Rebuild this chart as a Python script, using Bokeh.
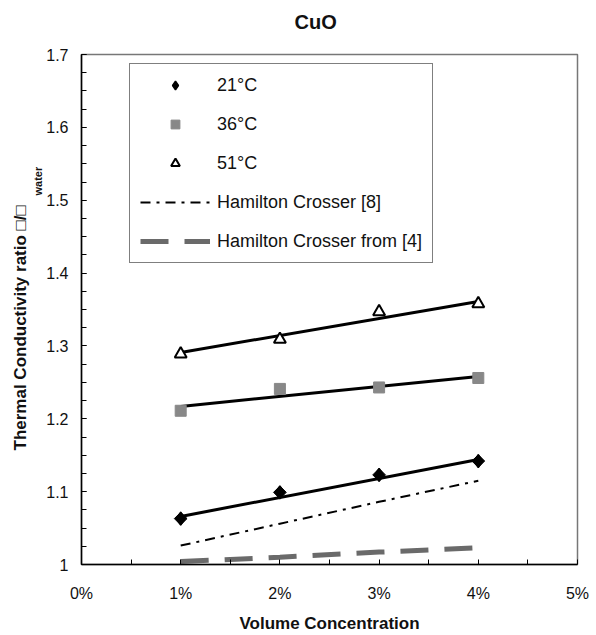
import math
from bokeh.plotting import figure
from bokeh.models import (Range1d, FixedTicker, CustomJSTickFormatter, Title,
                          Legend, LegendItem)
from bokeh.embed import file_html
from bokeh.resources import INLINE

# ---- data ----
conc = [1, 2, 3, 4]                       # volume concentration, %
k21 = [1.063, 1.099, 1.123, 1.142]
k36 = [1.211, 1.241, 1.243, 1.256]
k51 = [1.289, 1.309, 1.347, 1.358]
trend_x = [1, 4]
trend21 = [1.066, 1.144]
trend36 = [1.217, 1.258]
trend51 = [1.291, 1.361]
hc8 = [1.026, 1.056, 1.086, 1.115]
hc4 = [1.004, 1.010, 1.017, 1.023]

x_ticks = [0, 1, 2, 3, 4, 5]
x_minor = [0.5, 1.5, 2.5, 3.5, 4.5]
y_ticks = [1.0, 1.1, 1.2, 1.3, 1.4, 1.5, 1.6, 1.7]

FONT = "Liberation Sans"

p = figure(width=596, height=635, output_backend="svg", toolbar_location=None,
           x_range=Range1d(0, 5), y_range=Range1d(1.0, 1.7),
           min_border_left=81, min_border_right=19, min_border_top=54,
           min_border_bottom=69)
p.xgrid.visible = False
p.ygrid.visible = False
p.outline_line_color = "#777777"
p.outline_line_width = 1.5
p.background_fill_color = "white"
p.border_fill_color = "white"

y_minor = [round(1.0 + 0.025 * i, 3) for i in range(29)]
for ax in (p.xaxis[0], p.yaxis[0]):
    ax.axis_line_color = "black"
    ax.axis_line_width = 1.5
    ax.major_tick_in = 5
    ax.major_tick_out = 0
    ax.minor_tick_in = 5
    ax.minor_tick_out = 0
    ax.major_tick_line_color = "black"
    ax.minor_tick_line_color = "black"
    ax.major_label_text_font = FONT
    ax.major_label_text_font_size = "16px"
    ax.major_label_text_color = "#111111"

p.xaxis[0].ticker = FixedTicker(ticks=x_ticks, minor_ticks=x_minor)
p.yaxis[0].ticker = FixedTicker(ticks=y_ticks, minor_ticks=y_minor)
p.xaxis[0].formatter = CustomJSTickFormatter(code="return Math.round(tick) + '%';")
p.yaxis[0].formatter = CustomJSTickFormatter(code="return (Math.round(tick*10)/10).toString();")
p.xaxis[0].major_label_standoff = 20
p.yaxis[0].major_label_standoff = 13

p.xaxis[0].axis_label = "Volume Concentration"
p.xaxis[0].axis_label_text_font = FONT
p.xaxis[0].axis_label_text_font_size = "17px"
p.xaxis[0].axis_label_text_font_style = "bold"
p.xaxis[0].axis_label_text_color = "#111111"
p.xaxis[0].axis_label_standoff = 9

# ---- trend lines ----
for t in (trend21, trend36, trend51):
    p.line(trend_x, t, line_color="black", line_width=3)

# ---- Hamilton Crosser lines ----
r_hc8 = p.line(conc, hc8, line_color="black", line_width=2, line_dash="10 6 3 6")
r_hc4 = p.line(conc, hc4, line_color="#6a6a6a", line_width=5, line_dash="28 16")

# ---- markers ----
p.scatter(conc, k21, marker="square", size=9, angle=math.pi / 4,
          fill_color="black", line_color="black")
r21 = p.scatter(conc, k21, marker="diamond", size=13, fill_color="black",
                line_color="black", line_width=1.5)
r36 = p.scatter(conc, k36, marker="square", size=11, fill_color="#888888", line_color="#888888")
r51 = p.scatter(conc, k51, marker="triangle", size=12, fill_color="white",
                line_color="black", line_width=2)

legend = Legend(items=[
    LegendItem(label="21°C", renderers=[r21]),
    LegendItem(label="36°C", renderers=[r36]),
    LegendItem(label="51°C", renderers=[r51]),
    LegendItem(label="Hamilton Crosser [8]", renderers=[r_hc8]),
    LegendItem(label="Hamilton Crosser from [4]", renderers=[r_hc4]),
], location=(48, 301))
legend.label_text_font = FONT
legend.label_text_font_size = "18px"
legend.label_text_color = "#111111"
legend.glyph_width = 70
legend.glyph_height = 22
legend.label_height = 22
legend.label_standoff = 7
legend.spacing = 17
legend.padding = 10
legend.margin = 0
legend.border_line_color = "black"
legend.border_line_width = 1
legend.background_fill_alpha = 1
p.add_layout(legend, "center")

# ---- title (spacer keeps it near the top edge) ----
spacer = Title(text=" ", text_font=FONT, text_font_size="18px", standoff=0)
p.add_layout(spacer, "above")
title = Title(text="CuO", align="left", offset=213, text_font=FONT,
              text_font_size="20px", text_font_style="bold", standoff=0,
              text_color="#111111")
p.add_layout(title, "above")

# ---- y-axis label with subscript ----
ysub = Title(text="water", align="left", offset=369, text_font=FONT,
             text_font_size="11px", text_font_style="bold", standoff=0,
             text_color="#111111")
p.add_layout(ysub, "left")
ymain = Title(text="Thermal Conductivity ratio \u25a1/\u25a1", align="left", offset=114,
              text_font=FONT, text_font_size="17px", text_font_style="bold",
              standoff=0, text_color="#111111")
p.add_layout(ymain, "left")

open("out.html", "w").write(file_html(p, INLINE))
